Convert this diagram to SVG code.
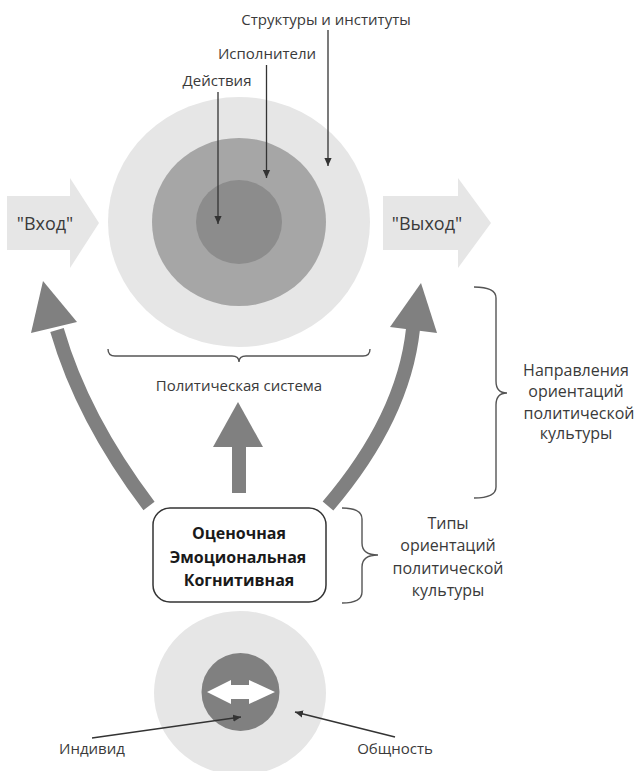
<svg xmlns="http://www.w3.org/2000/svg" width="635" height="771" viewBox="0 0 635 771">
<style>
text{font-family:"Open Sans","DejaVu Sans",sans-serif;fill:#3a3a3a;text-anchor:middle}
.lbl{font-size:15px}
.side{font-size:16px}
.io{font-size:18px}
.bold{font-size:16px;font-weight:bold;fill:#1a1a1a}
.thin{stroke:#333;stroke-width:1.3;fill:none}
.brace{stroke:#555;stroke-width:1.4;fill:none}
.big{stroke:#808080;stroke-width:14;fill:none;stroke-linecap:butt}
.head{fill:#808080}
</style>
<defs>
<marker id="ah" viewBox="0 0 10 10" refX="10" refY="5" markerWidth="8" markerHeight="8" markerUnits="userSpaceOnUse" orient="auto"><path d="M0,0.5 L10,5 L0,9.5 z" fill="#333"/></marker>
</defs>
<rect width="635" height="771" fill="#fff"/>

<g id="input">
<polygon points="7,196 70,196 70,178 99,223 70,268 70,250 7,250" fill="#e6e6e6"/>
<text class="io" x="45" y="230">"Вход"</text>
</g>

<g id="system">
<ellipse cx="239" cy="222" rx="131" ry="125" fill="#e6e6e6"/>
<ellipse cx="239" cy="222" rx="87" ry="84" fill="#a6a6a6"/>
<ellipse cx="239" cy="222" rx="43" ry="42" fill="#8c8c8c"/>
</g>

<g id="output">
<polygon points="383,196 458,196 458,178 491,223 458,268 458,250 383,250" fill="#e6e6e6"/>
<text class="io" x="427" y="230">"Выход"</text>
</g>

<g id="labels-top">
<text class="lbl" x="326" y="25">Структуры и институты</text>
<text class="lbl" x="267" y="59">Исполнители</text>
<text class="lbl" x="217" y="86">Действия</text>
</g>

<g id="system-label">
<path class="brace" d="M108,349 q0,7 7,7 L232,356 q7,0 7,6 q0,-6 7,-6 L363,356 q7,0 7,-7"/>
<text class="lbl" x="239" y="391" font-size="15.5">Политическая система</text>
</g>

<g id="directions-label">
<path class="brace" d="M474,287 q22,0 22,11 L496,381 q0,12 11,12 q-11,0 -11,12 L496,487 q0,11 -22,11"/>
<text class="side" x="576" y="376">Направления</text>
<text class="side" x="576" y="397">ориентаций</text>
<text class="side" x="579" y="419">политической</text>
<text class="side" x="576" y="439">культуры</text>
</g>

<g id="orientation-types">
<rect x="153" y="508" width="173" height="94" rx="17" fill="#fff" stroke="#333" stroke-width="1.5"/>
<text class="bold" x="239" y="539">Оценочная</text>
<text class="bold" x="238" y="563">Эмоциональная</text>
<text class="bold" x="239" y="586">Когнитивная</text>
</g>

<g id="types-label">
<path class="brace" d="M342,508 q20,0 20,11 L362,543 q0,12 16,12 q-16,0 -16,12 L362,592 q0,11 -20,11"/>
<text class="side" x="448" y="529">Типы</text>
<text class="side" x="448" y="551">ориентаций</text>
<text class="side" x="448" y="574">политической</text>
<text class="side" x="448" y="596">культуры</text>
</g>

<g id="individual-community">
<ellipse cx="240" cy="693" rx="86" ry="82" fill="#e6e6e6"/>
<circle cx="240.5" cy="692" r="39" fill="#808080"/>
<polygon points="207,692 231,680 231,685 249,685 249,680 275,692 249,704 249,699 231,699 231,704" fill="#fff"/>
<text class="lbl" x="92" y="754">Индивид</text>
<text class="lbl" x="395" y="754">Общность</text>
</g>

<g id="connectors">
<line class="thin" x1="328" y1="30" x2="328" y2="166" marker-end="url(#ah)"/>
<line class="thin" x1="266.5" y1="65" x2="266.5" y2="178" marker-end="url(#ah)"/>
<line class="thin" x1="218" y1="92" x2="218" y2="224" marker-end="url(#ah)"/>
<path class="big" d="M149,506 Q82.5,418 57,330"/>
<polygon class="head" points="43,281 31,333 77,322"/>
<path class="big" d="M328,506 Q403.5,417.5 413,329"/>
<polygon class="head" points="421,283 390,327 437,333"/>
<rect x="232" y="445" width="14" height="48" fill="#808080"/>
<polygon class="head" points="238,402 213,447 263,447"/>
<line class="thin" x1="92" y1="738" x2="241" y2="717" marker-end="url(#ah)"/>
<line class="thin" x1="395" y1="737" x2="295" y2="712" marker-end="url(#ah)"/>
</g>
</svg>
